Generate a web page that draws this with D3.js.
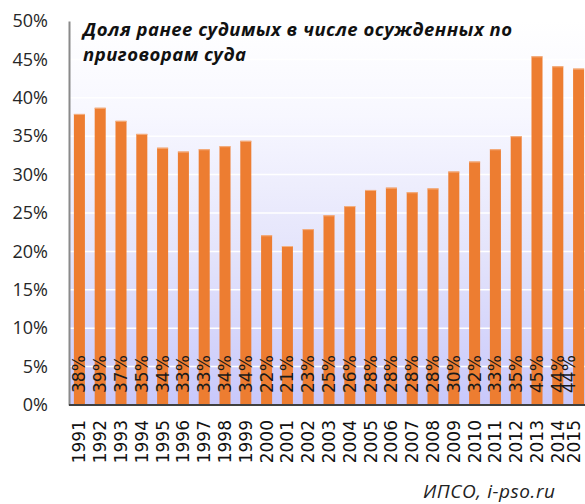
<!DOCTYPE html>
<html lang="ru">
<head>
<meta charset="UTF-8">
<title>Доля ранее судимых</title>
<script src="https://d3js.org/d3.v7.min.js"></script>
<style>
  html, body { margin: 0; padding: 0; background: #fff; overflow: hidden; }
  svg { display: block; }
</style>
</head>
<body>
<div id="chart"></div>
<script>
// годы и доля ранее судимых (%)
const years = ["1991","1992","1993","1994","1995","1996","1997","1998","1999","2000",
               "2001","2002","2003","2004","2005","2006","2007","2008","2009","2010",
               "2011","2012","2013","2014","2015"];
const shares = [37.9, 38.7, 37.0, 35.3, 33.5, 33.0, 33.3, 33.7, 34.4, 22.1,
                20.7, 22.9, 24.7, 25.9, 28.0, 28.3, 27.7, 28.2, 30.4, 31.7,
                33.3, 35.0, 45.4, 44.1, 43.8];
const yTicks = [0, 5, 10, 15, 20, 25, 30, 35, 40, 45, 50];
const titleLines = ["Доля ранее судимых в числе осужденных по", "приговорам суда"];
const source = "ИПСО, i-pso.ru";

const W = 585, H = 504;
const pLeft = 69, pRight = 589, pTop = 21, pBottom = 405;

const svg = d3.select("#chart").append("svg")
  .attr("width", W).attr("height", H);

const x = d3.scaleBand().domain(years).range([pLeft, pRight])
  .paddingInner(0.47).paddingOuter(0.235);
const y = d3.scaleLinear().domain([0, 50]).range([pBottom, pTop]);

// фон области построения
const grad = svg.append("defs").append("linearGradient")
  .attr("id", "bg").attr("x1", 0).attr("y1", 0).attr("x2", 0).attr("y2", 1);
grad.append("stop").attr("offset", "0%").attr("stop-color", "#ffffff");
grad.append("stop").attr("offset", "25%").attr("stop-color", "#f7f7ff");
grad.append("stop").attr("offset", "60%").attr("stop-color", "#e4e4fb");
grad.append("stop").attr("offset", "100%").attr("stop-color", "#c8c8fb");

svg.append("rect")
  .attr("x", pLeft).attr("y", pTop)
  .attr("width", W - pLeft).attr("height", pBottom - pTop)
  .attr("fill", "url(#bg)");

// сетка
svg.append("g").selectAll("line")
  .data(yTicks.filter(d => d > 0 && d < 50))
  .join("line")
  .attr("x1", pLeft).attr("x2", W)
  .attr("y1", d => y(d)).attr("y2", d => y(d))
  .attr("stroke", "#ffffff").attr("stroke-width", 1.5);

// ось Y
const yAxis = svg.append("g")
  .attr("transform", `translate(${pLeft},0)`)
  .call(d3.axisLeft(y).tickValues(yTicks).tickFormat(d => d + "%").tickSize(0).tickPadding(21));
yAxis.select(".domain").attr("stroke", "#8a8a8a").attr("stroke-width", 2);
yAxis.selectAll("text")
  .attr("font-family", "'Open Sans', sans-serif")
  .attr("font-size", 18)
  .attr("fill", "#262626");

// столбцы
const bars = svg.append("g");
bars.selectAll("rect")
  .data(shares)
  .join("rect")
  .attr("x", (d, i) => x(years[i]))
  .attr("y", d => y(d))
  .attr("width", x.bandwidth())
  .attr("height", d => pBottom - y(d))
  .attr("fill", "#ed7d31");
bars.selectAll("line")
  .data(shares)
  .join("line")
  .attr("x1", (d, i) => x(years[i])).attr("x2", (d, i) => x(years[i]) + x.bandwidth())
  .attr("y1", d => y(d) + 0.5).attr("y2", d => y(d) + 0.5)
  .attr("stroke", "#f4b183").attr("stroke-width", 1);

// ось X
const xAxis = svg.append("g")
  .attr("transform", `translate(0,${pBottom})`)
  .call(d3.axisBottom(x).tickSize(0).tickPadding(0));
xAxis.select(".domain").remove();
// последняя подпись прижата к краю, чтобы не обрезалась
xAxis.selectAll(".tick").each(function (d) {
  const cx = x(d) + x.bandwidth() / 2;
  if (cx > W - 11) d3.select(this).attr("transform", `translate(${W - 11},0)`);
});
xAxis.selectAll("text")
  .attr("font-family", "'DejaVu Sans', sans-serif")
  .attr("font-size", 17)
  .attr("fill", "#111")
  .attr("text-anchor", "end")
  .attr("transform", "translate(0,15) rotate(-90)")
  .attr("x", 0).attr("y", 0).attr("dy", "0.35em");

svg.append("line")
  .attr("x1", pLeft).attr("x2", W)
  .attr("y1", pBottom).attr("y2", pBottom)
  .attr("stroke", "#404040").attr("stroke-width", 2);

// подписи значений
svg.append("g").selectAll("text")
  .data(shares)
  .join("text")
  .attr("transform", (d, i) => {
    const cx = Math.min(x(years[i]) + x.bandwidth() / 2, W - 16);
    return `translate(${cx},${pBottom - 12}) rotate(-90)`;
  })
  .attr("dy", "0.35em")
  .attr("font-family", "'DejaVu Sans', sans-serif")
  .attr("font-size", 17)
  .attr("fill", "#1a1a1a")
  .text(d => Math.round(d) + "%");

// заголовок
const title = svg.append("text")
  .attr("font-family", "'Open Sans', sans-serif")
  .attr("font-weight", "bold")
  .attr("font-style", "italic")
  .attr("font-size", 18.5)
  .attr("fill", "#111");
const titleWidths = [429, 163];
titleLines.forEach((t, i) => {
  title.append("tspan").attr("x", 83).attr("y", 36 + i * 25)
    .attr("textLength", titleWidths[i]).attr("lengthAdjust", "spacing")
    .text(t);
});

// источник
svg.append("text")
  .attr("x", 555).attr("y", 498)
  .attr("text-anchor", "end")
  .attr("font-family", "'Open Sans', sans-serif")
  .attr("font-style", "italic")
  .attr("font-size", 19)
  .attr("textLength", 132).attr("lengthAdjust", "spacing")
  .attr("fill", "#222")
  .text(source);
</script>
</body>
</html>
